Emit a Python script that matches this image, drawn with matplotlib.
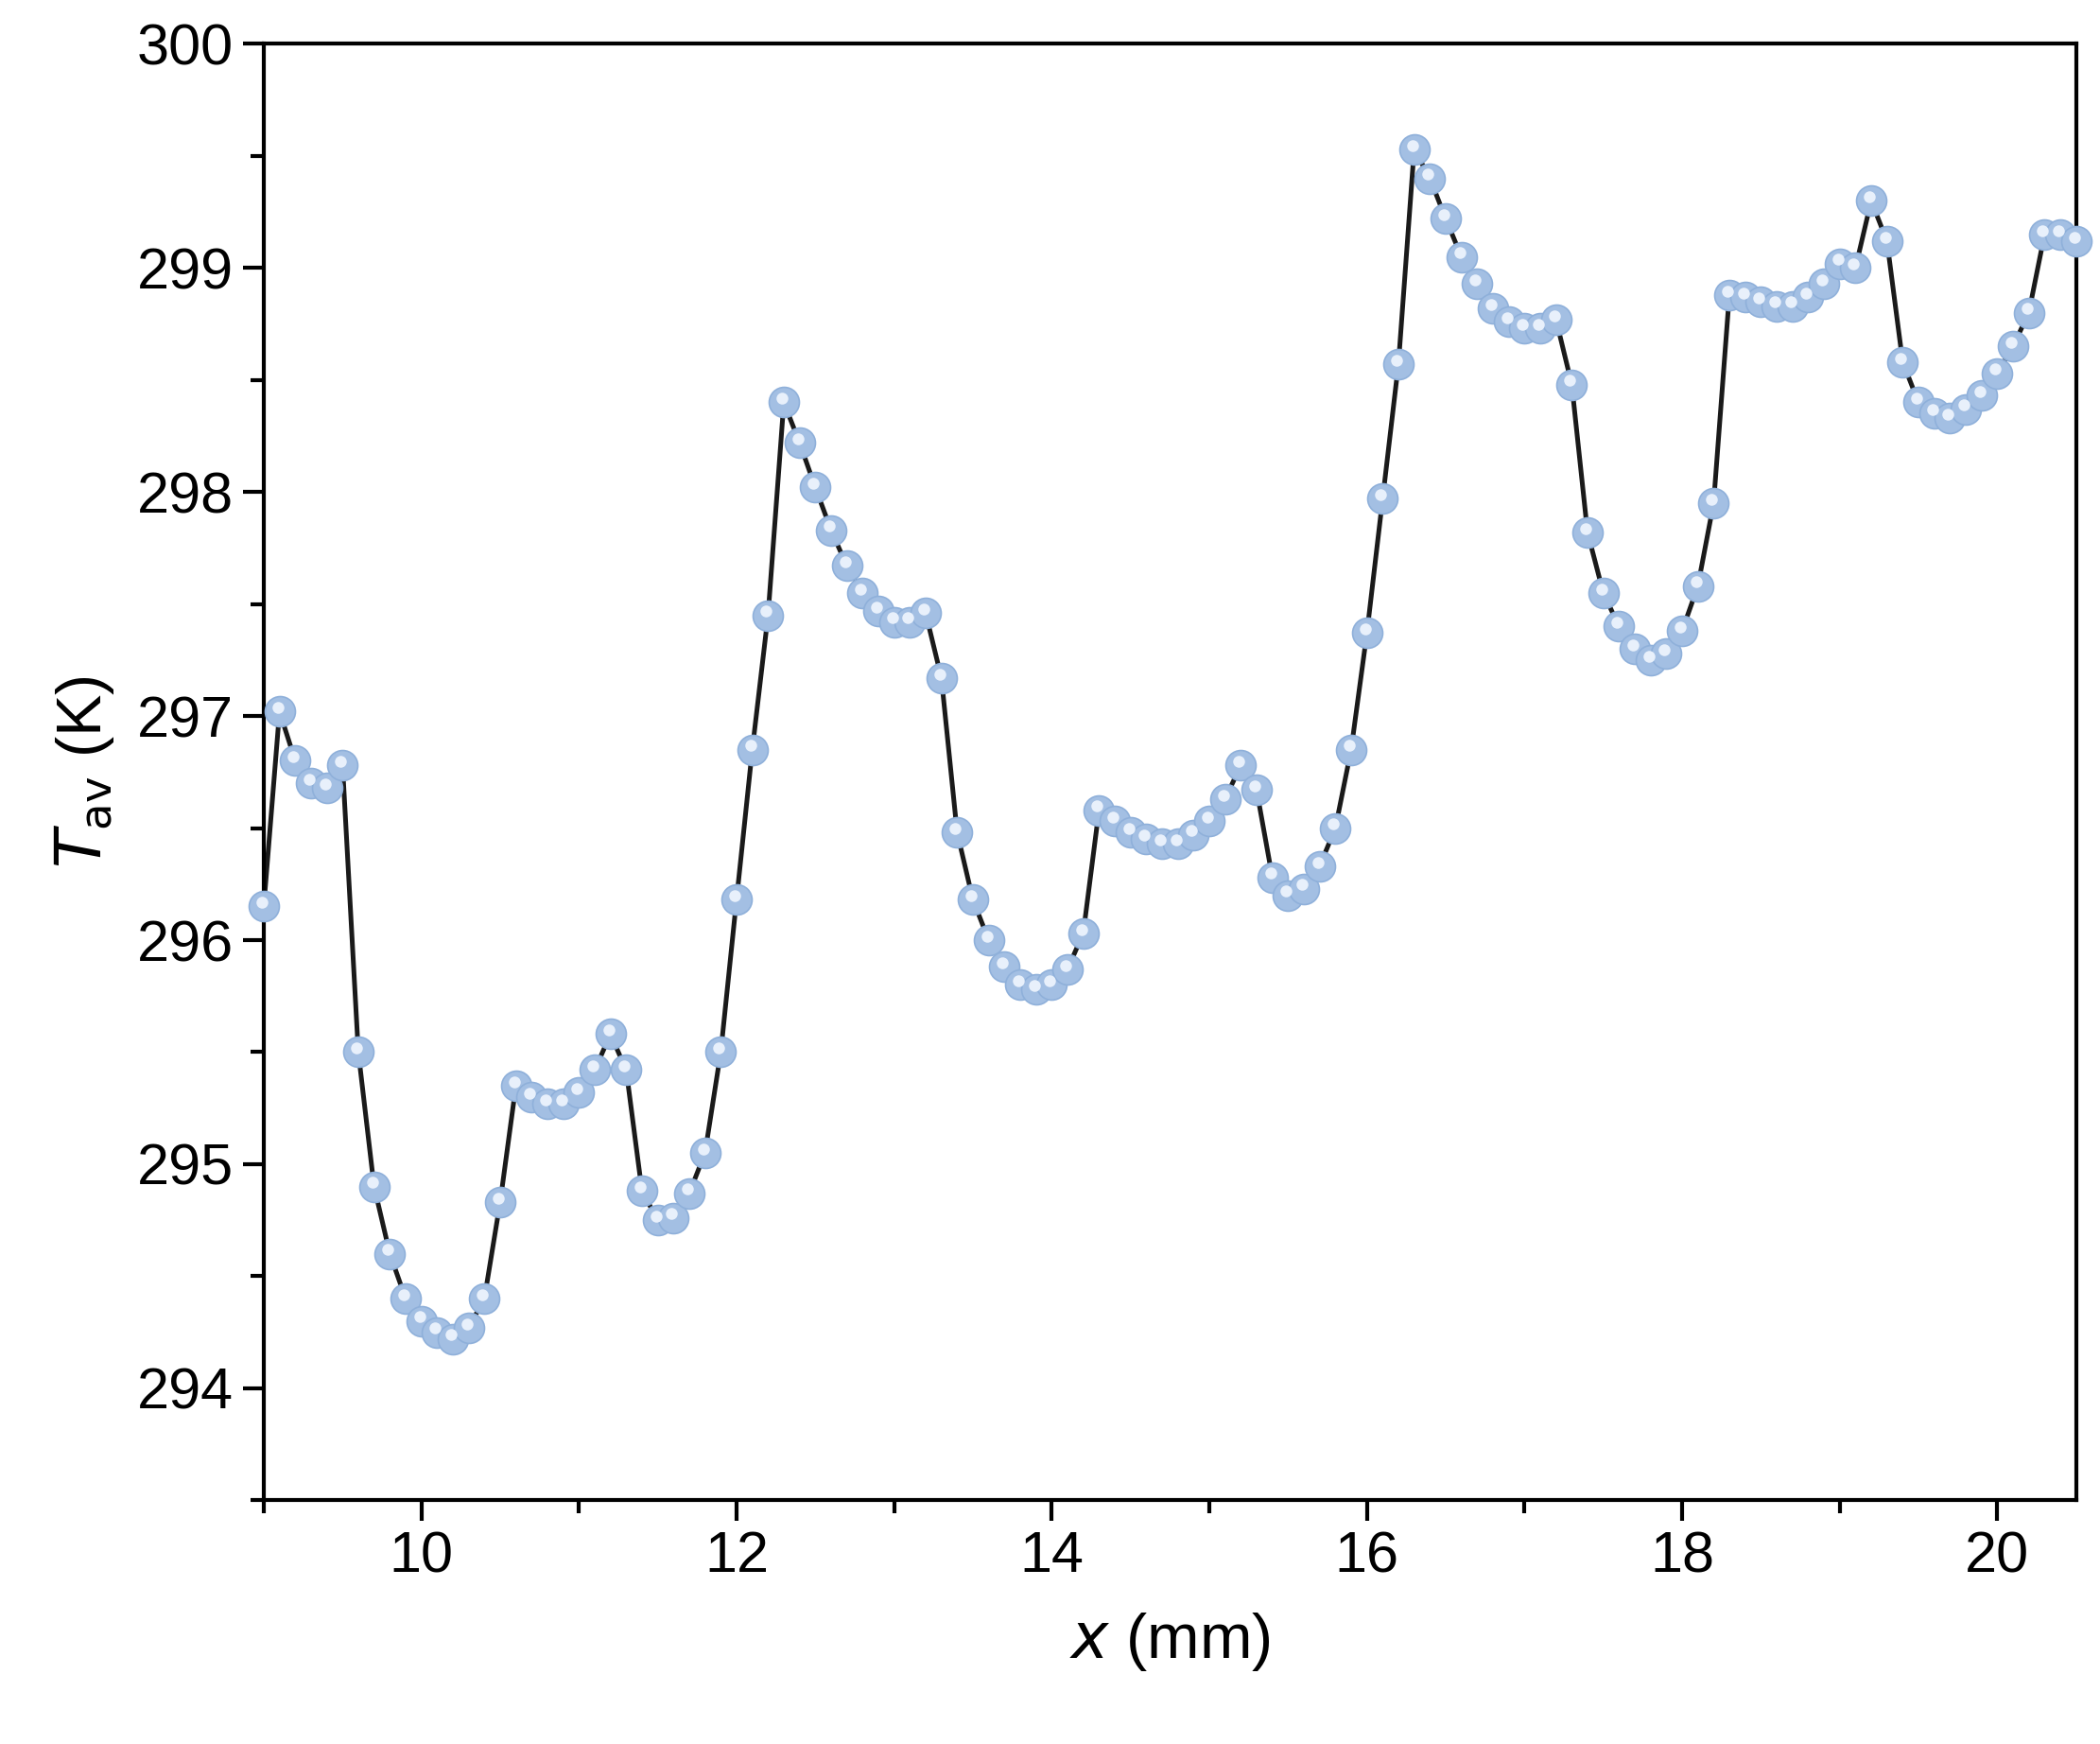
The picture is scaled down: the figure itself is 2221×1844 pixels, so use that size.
import matplotlib
matplotlib.use('Agg')
import matplotlib.pyplot as plt
import numpy as np
from matplotlib.ticker import MultipleLocator, AutoMinorLocator

plt.rcParams['font.family'] = ['Liberation Sans', 'DejaVu Sans']

# positions in mm, 0.1 mm step
x_mm = np.round(np.arange(9.0, 20.55, 0.1), 1)
t_av = [296.15, 297.02, 296.80, 296.70, 296.68, 296.78, 295.50, 294.90, 294.60, 294.40,
        294.30, 294.25, 294.22, 294.27, 294.40, 294.83, 295.35, 295.30, 295.27, 295.27,
        295.32, 295.42, 295.58, 295.42, 294.88, 294.75, 294.76, 294.87, 295.05, 295.50,
        296.18, 296.85, 297.45, 298.40, 298.22, 298.02, 297.83, 297.67, 297.55, 297.47,
        297.42, 297.42, 297.46, 297.17, 296.48, 296.18, 296.00, 295.88, 295.80, 295.78,
        295.80, 295.87, 296.03, 296.58, 296.53, 296.48, 296.45, 296.43, 296.43, 296.47,
        296.53, 296.63, 296.78, 296.67, 296.28, 296.20, 296.23, 296.33, 296.50, 296.85,
        297.37, 297.97, 298.57, 299.53, 299.40, 299.22, 299.05, 298.93, 298.82, 298.76,
        298.73, 298.73, 298.77, 298.48, 297.82, 297.55, 297.40, 297.30, 297.25, 297.28,
        297.38, 297.58, 297.95, 298.88, 298.87, 298.85, 298.83, 298.83, 298.87, 298.93,
        299.02, 299.00, 299.30, 299.12, 298.58, 298.40, 298.35, 298.33, 298.37, 298.43,
        298.53, 298.65, 298.80, 299.15, 299.15, 299.12]

fig = plt.figure(figsize=(11.105, 9.22), dpi=200)
ax = fig.add_axes([0.1256, 0.1398, 0.863, 0.835])

ax.plot(x_mm, t_av, color='#1a1a1a', lw=1.8, zorder=2)
# shaded sphere look: base marker + small highlight
ax.plot(x_mm, t_av, 'o', ms=11.5, color='#a3bfe3', mec='#8fb0da', mew=0.6, zorder=3, clip_on=False)
ax.plot(x_mm - 0.012, np.array(t_av) + 0.018, 'o', ms=4.5, color='#e8f0fb', mew=0, zorder=4, clip_on=False)

ax.set_xlim(9, 20.5)
ax.set_ylim(293.5, 300)
ax.xaxis.set_major_locator(MultipleLocator(2))
ax.xaxis.set_minor_locator(AutoMinorLocator(2))
ax.yaxis.set_major_locator(MultipleLocator(1))
ax.yaxis.set_minor_locator(AutoMinorLocator(2))
ax.tick_params(which='both', direction='out', top=False, right=False, width=1.5)
ax.tick_params(which='major', length=8, labelsize=22)
ax.tick_params(which='minor', length=5)
for s in ax.spines.values():
    s.set_linewidth(1.5)

ax.set_xlabel(r'$\it{x}$ (mm)', fontsize=24, labelpad=10)
ax.set_ylabel(r'$\it{T}_{\rm av}$ (K)', fontsize=24, labelpad=8)

fig.savefig('out.png', dpi=200)
